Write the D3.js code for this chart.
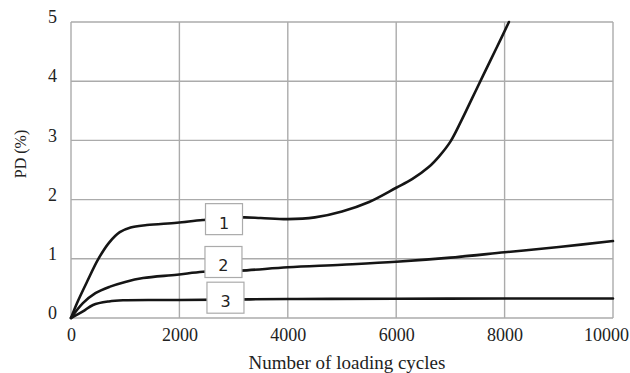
<!DOCTYPE html>
<html>
<head>
<meta charset="utf-8">
<script src="https://cdn.jsdelivr.net/npm/d3@7"></script>
<style>
  html, body { margin: 0; padding: 0; background: #fff; }
  svg { display: block; }
  .serif { font-family: "Liberation Serif", "Times New Roman", Times, "DejaVu Serif", serif; }
  .boxlabel { font-family: "DejaVu Sans", Verdana, sans-serif; }
</style>
</head>
<body>
<svg id="chart" width="630" height="373"></svg>
<script>
// Permanent deformation (PD) against number of loading cycles, three test series.
const xTicks = [0, 2000, 4000, 6000, 8000, 10000];
const yTicks = [0, 1, 2, 3, 4, 5];

const cycles1 = [0, 110, 300, 500, 700, 900, 1100, 1400, 1955, 2435, 3170, 3500, 4000, 4500, 5000, 5500, 6000, 6300, 6600, 6800, 7000, 7200, 7400, 7600, 7850, 8080];
const pd1     = [0, 0.25, 0.62, 0.99, 1.27, 1.45, 1.53, 1.57, 1.61, 1.655, 1.70, 1.69, 1.67, 1.70, 1.80, 1.96, 2.20, 2.35, 2.55, 2.74, 2.98, 3.33, 3.71, 4.09, 4.56, 5.00];

const cycles2 = [0, 220, 450, 720, 1000, 1330, 1955, 2435, 3118, 4000, 5000, 6000, 7000, 8000, 9000, 10000];
const pd2     = [0, 0.25, 0.42, 0.53, 0.61, 0.675, 0.73, 0.78, 0.80, 0.856, 0.90, 0.95, 1.02, 1.11, 1.20, 1.30];

const cycles3 = [0, 220, 406, 700, 960, 2000, 4000, 6000, 8000, 10000];
const pd3     = [0, 0.11, 0.22, 0.28, 0.30, 0.305, 0.32, 0.325, 0.33, 0.33];

const seriesNames = ["1", "2", "3"];
const labelCycles = [2823, 2813, 2850];
const labelPD     = [1.67, 0.946, 0.343];

const svg = d3.select("#chart");
const plotLeft = 71, plotRight = 613, plotTop = 22, plotBottom = 318;

const x = d3.scaleLinear().domain([0, 10000]).range([plotLeft, plotRight]);
const y = d3.scaleLinear().domain([0, 5]).range([plotBottom, plotTop]);

const gridColor = "#ababab";

// grid
const grid = svg.append("g");
grid.selectAll("line.v").data(xTicks).join("line")
  .attr("class", "v")
  .attr("x1", d => x(d)).attr("x2", d => x(d))
  .attr("y1", y(0)).attr("y2", y(5))
  .attr("stroke", gridColor).attr("stroke-width", 1.4);
grid.selectAll("line.h").data(yTicks).join("line")
  .attr("class", "h")
  .attr("x1", x(0)).attr("x2", x(10000))
  .attr("y1", d => y(d)).attr("y2", d => y(d))
  .attr("stroke", gridColor).attr("stroke-width", 1.4);

// axes (labels only)
const xAxis = svg.append("g")
  .attr("transform", `translate(0,${plotBottom})`)
  .call(d3.axisBottom(x).tickValues(xTicks).tickSize(0).tickPadding(10).tickFormat(d3.format("d")))
  .attr("font-family", null).attr("font-size", null);
xAxis.select(".domain").remove();
xAxis.selectAll("text")
  .attr("class", "serif")
  .style("font-size", "18px").attr("fill", "#222")
  .attr("dx", d => d === 10000 ? -7 : 0);

const yAxis = svg.append("g")
  .attr("transform", `translate(${plotLeft},0)`)
  .call(d3.axisLeft(y).tickValues(yTicks).tickSize(0).tickPadding(14).tickFormat(d3.format("d")))
  .attr("font-family", null).attr("font-size", null);
yAxis.select(".domain").remove();
yAxis.selectAll("text")
  .attr("class", "serif")
  .style("font-size", "18px").attr("fill", "#222")
  .attr("y", -5);

// axis titles
svg.append("text")
  .attr("class", "serif")
  .attr("x", 347).attr("y", 369)
  .attr("text-anchor", "middle")
  .style("font-size", "19px").attr("fill", "#222")
  .text("Number of loading cycles");

svg.append("text")
  .attr("class", "serif")
  .attr("transform", "translate(26,154) rotate(-90)")
  .attr("text-anchor", "middle")
  .style("font-size", "16px").attr("fill", "#222")
  .text("PD (%)");

// curves
const line = d3.line()
  .x(d => x(d[0])).y(d => y(d[1]))
  .curve(d3.curveCatmullRom.alpha(0.5));

const series = [
  d3.zip(cycles1, pd1),
  d3.zip(cycles2, pd2),
  d3.zip(cycles3, pd3)
];

svg.append("g").selectAll("path").data(series).join("path")
  .attr("d", line)
  .attr("fill", "none")
  .attr("stroke", "#151515")
  .attr("stroke-width", 2.6)
  .attr("stroke-linejoin", "round")
  .attr("stroke-linecap", "round");

// series labels in boxes
const boxW = 37, boxH = 31;
const labels = svg.append("g").selectAll("g").data(seriesNames).join("g")
  .attr("transform", (d, i) => `translate(${x(labelCycles[i])},${y(labelPD[i])})`);
labels.append("rect")
  .attr("x", -boxW / 2).attr("y", -boxH / 2)
  .attr("width", boxW).attr("height", boxH)
  .attr("fill", "#fff").attr("stroke", gridColor).attr("stroke-width", 1.2);
labels.append("text")
  .attr("class", "boxlabel")
  .attr("text-anchor", "middle")
  .attr("y", 9.5)
  .style("font-size", "16px").attr("fill", "#222")
  .text(d => d);
</script>
</body>
</html>
